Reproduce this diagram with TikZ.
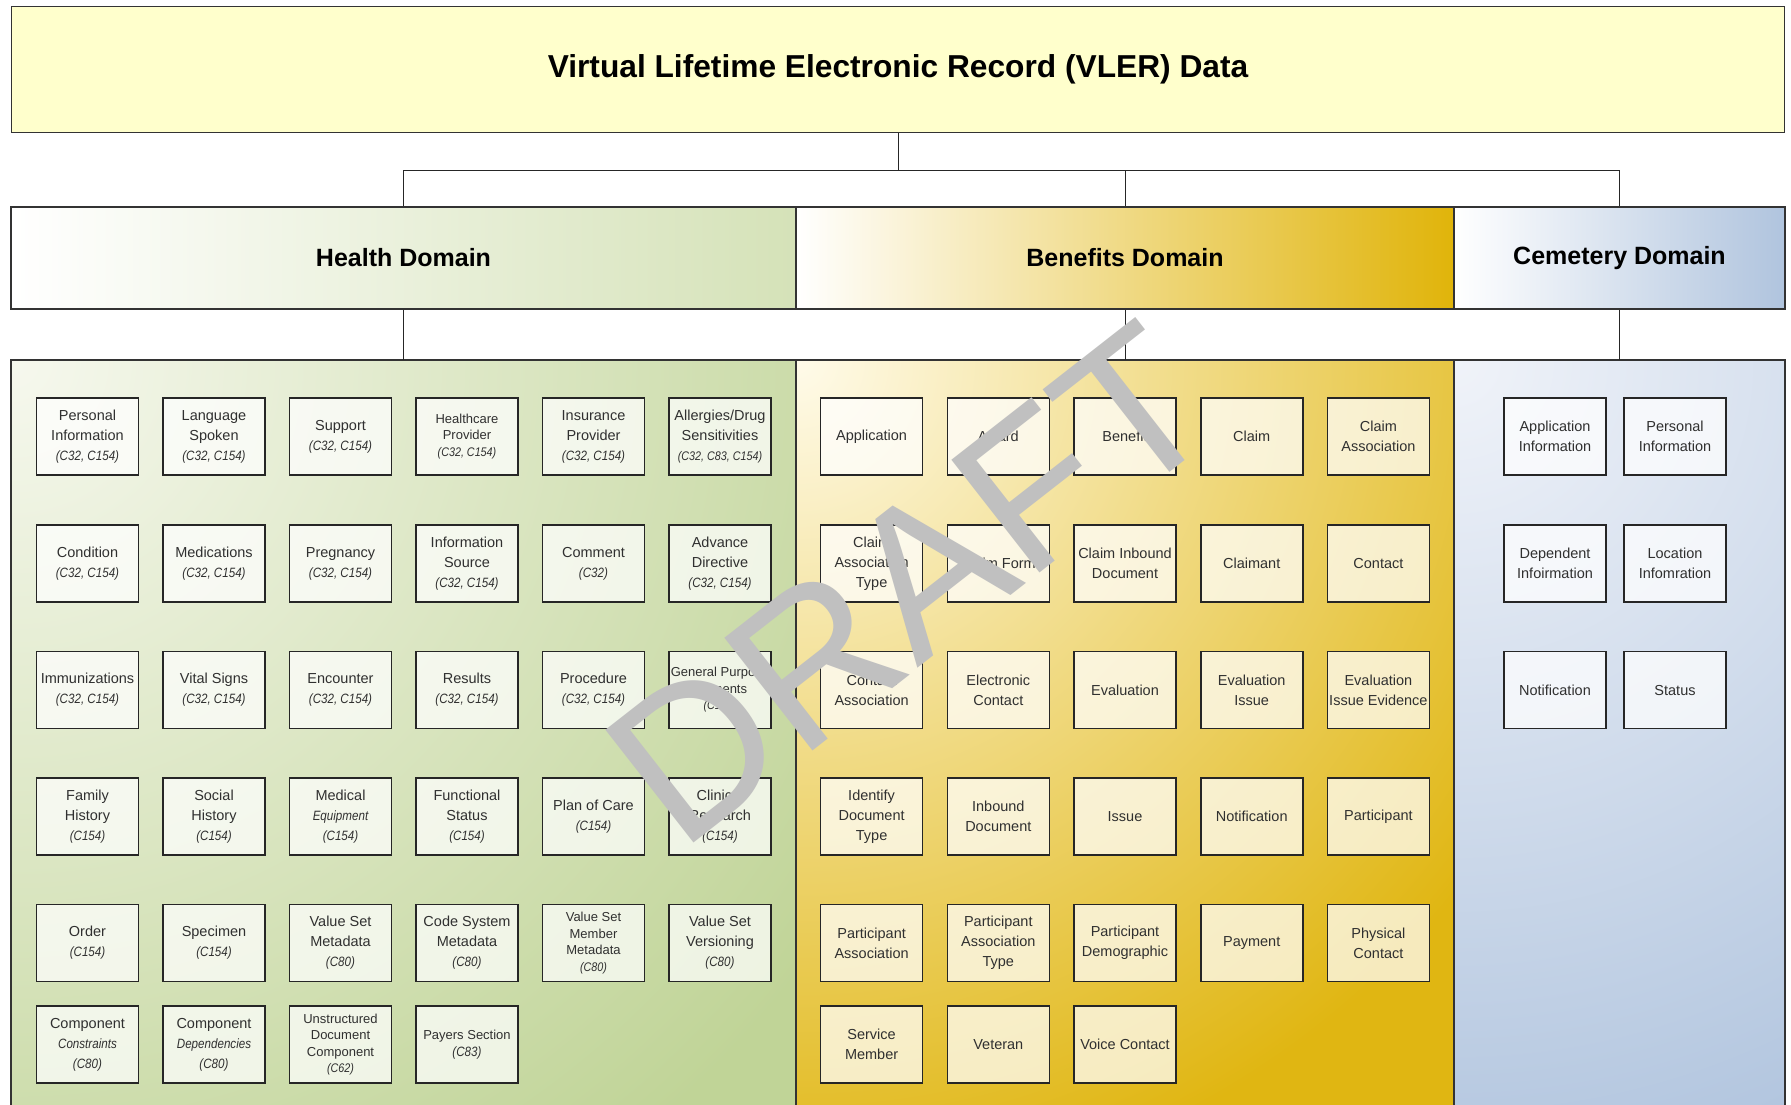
\documentclass[tikz,border=0pt]{standalone}
\usepackage{fontspec}
\setmainfont{Liberation Sans}
\newfontfamily\narrowfont[FakeStretch=0.86]{Liberation Sans}
\newcommand{\ci}[1]{{\narrowfont\itshape\fontsize{13.5}{20}\selectfont #1}}
\newcommand{\cis}[1]{{\narrowfont\itshape\fontsize{12.5}{16}\selectfont #1}}
\definecolor{titlefill}{HTML}{FFFFCC}
\definecolor{hgreen}{HTML}{D5E2B8}
\definecolor{cgreen}{HTML}{C0D497}
\definecolor{hgold}{HTML}{E0B40A}
\definecolor{cgold}{HTML}{E0B612}
\definecolor{hblue}{HTML}{B0C4DE}
\definecolor{cblue}{HTML}{B0C4DE}
\definecolor{paleg}{HTML}{F6F8EE}
\definecolor{paley}{HTML}{FFFBEA}
\definecolor{paleb}{HTML}{F0F3F9}
\definecolor{boxtext}{HTML}{303030}
\definecolor{draftgray}{HTML}{C0C0C0}
\begin{document}
\begin{tikzpicture}[x=1pt,y=-1pt,
  item/.style={draw=black!85, line width=1.6pt, fill=white, fill opacity=0.72, text opacity=1,
    minimum width=102pt, minimum height=77pt, inner sep=1pt, align=center, text=boxtext,
    font=\fontsize{14.5}{20}\selectfont},
  smallitem/.style={item, font=\fontsize{13}{16.5}\selectfont},
  hdr/.style={draw=black!80, line width=1.3pt, minimum height=102pt, inner sep=0pt,
    font=\bfseries\fontsize{25}{30}\selectfont},
  conn/.style={draw=black!85, line width=1pt},
  frame/.style={draw=black!80, line width=1.3pt},
]
\useasboundingbox (0,0) rectangle (1791,1104);
\clip (0,0) rectangle (1791,1104);

% containers
\begin{scope}
  \clip (11,360) rectangle (796,1130);
  \fill[cgreen] (11,360) rectangle (796,1130);
  \shade[inner color=paleg, outer color=cgreen] (11,360) circle (1000);
\end{scope}
\begin{scope}
  \clip (796,360) rectangle (1454,1130);
  \fill[cgold] (796,360) rectangle (1454,1130);
  \shade[inner color=paley, outer color=cgold] (796,360) circle (850);
\end{scope}
\begin{scope}
  \clip (1454,360) rectangle (1785,1130);
  \fill[cblue] (1454,360) rectangle (1785,1130);
  \shade[inner color=paleb, outer color=cblue] (1454,360) circle (850);
\end{scope}
\draw[frame] (11,360) rectangle (796,1130);
\draw[frame] (796,360) rectangle (1454,1130);
\draw[frame] (1454,360) rectangle (1785,1130);
\coordinate (cH) at (403.5,360);
\coordinate (cB) at (1125,360);
\coordinate (cC) at (1619.5,360);

% title and headers
\node[draw=black!80, line width=1.3pt, fill=titlefill, minimum width=1773pt, minimum height=126pt,
  inner sep=0pt, font=\bfseries\fontsize{31.7}{36}\selectfont] (title) at (898,69.5)
  {Virtual Lifetime Electronic Record (VLER) Data};
\node[hdr, left color=white, right color=hgreen, minimum width=785pt] (hdH) at (403.5,258) {Health Domain};
\node[hdr, left color=white, right color=hgold, minimum width=658pt] (hdB) at (1125,258) {Benefits Domain};
\node[hdr, left color=white, right color=hblue, minimum width=331pt] (hdC) at (1619.5,258) {Cemetery Domain};

% connectors
\coordinate (bus) at (898,170);
\draw[conn] (title.south) -- (bus);
\draw[conn] (bus) -| (hdH.north);
\draw[conn] (bus) -| (hdB.north);
\draw[conn] (bus) -| (hdC.north);
\draw[conn] (hdH.south) -- (cH);
\draw[conn] (hdB.south) -- (cB);
\draw[conn] (hdC.south) -- (cC);

% Health domain boxes
\node[item] (h11) at (87.5,436.5) {Personal\\Information\\\ci{(C32, C154)}};
\node[item] (h12) at (214,436.5) {Language\\Spoken\\\ci{(C32, C154)}};
\node[item] (h13) at (340.5,436.5) {Support\\\ci{(C32, C154)}};
\node[smallitem] (h14) at (467,436.5) {Healthcare\\Provider\\\cis{(C32, C154)}};
\node[item] (h15) at (593.5,436.5) {Insurance\\Provider\\\ci{(C32, C154)}};
\node[item] (h16) at (720,436.5) {Allergies/Drug\\Sensitivities\\\cis{(C32, C83, C154)}};

\node[item] (h21) at (87.5,563.5) {Condition\\\ci{(C32, C154)}};
\node[item] (h22) at (214,563.5) {Medications\\\ci{(C32, C154)}};
\node[item] (h23) at (340.5,563.5) {Pregnancy\\\ci{(C32, C154)}};
\node[item] (h24) at (467,563.5) {Information\\Source\\\ci{(C32, C154)}};
\node[item] (h25) at (593.5,563.5) {Comment\\\ci{(C32)}};
\node[item] (h26) at (720,563.5) {Advance\\Directive\\\ci{(C32, C154)}};

\node[item] (h31) at (87.5,690) {Immunizations\\\ci{(C32, C154)}};
\node[item] (h32) at (214,690) {Vital Signs\\\ci{(C32, C154)}};
\node[item] (h33) at (340.5,690) {Encounter\\\ci{(C32, C154)}};
\node[item] (h34) at (467,690) {Results\\\ci{(C32, C154)}};
\node[item] (h35) at (593.5,690) {Procedure\\\ci{(C32, C154)}};
\node[smallitem] (h36) at (720,690) {General Purpose\\Elements\\\cis{(C154)}};

\node[item] (h41) at (87.5,816.5) {Family\\History\\\ci{(C154)}};
\node[item] (h42) at (214,816.5) {Social\\History\\\ci{(C154)}};
\node[item] (h43) at (340.5,816.5) {Medical\\\ci{Equipment}\\\ci{(C154)}};
\node[item] (h44) at (467,816.5) {Functional\\Status\\\ci{(C154)}};
\node[item] (h45) at (593.5,816.5) {Plan of Care\\\ci{(C154)}};
\node[item] (h46) at (720,816.5) {Clinical\\Research\\\ci{(C154)}};

\node[item] (h51) at (87.5,943) {Order\\\ci{(C154)}};
\node[item] (h52) at (214,943) {Specimen\\\ci{(C154)}};
\node[item] (h53) at (340.5,943) {Value Set\\Metadata\\\ci{(C80)}};
\node[item] (h54) at (467,943) {Code System\\Metadata\\\ci{(C80)}};
\node[smallitem] (h55) at (593.5,943) {Value Set\\Member\\Metadata\\\cis{(C80)}};
\node[item] (h56) at (720,943) {Value Set\\Versioning\\\ci{(C80)}};

\node[item] (h61) at (87.5,1044.5) {Component\\\ci{Constraints}\\\ci{(C80)}};
\node[item] (h62) at (214,1044.5) {Component\\\ci{Dependencies}\\\ci{(C80)}};
\node[smallitem] (h63) at (340.5,1044.5) {Unstructured\\Document\\Component\\\cis{(C62)}};
\node[smallitem] (h64) at (467,1044.5) {Payers Section\\\ci{(C83)}};

% Benefits domain boxes
\node[item] (b11) at (871.6,436.5) {Application};
\node[item] (b12) at (998.3,436.5) {Award};
\node[item] (b13) at (1125,436.5) {Benefit};
\node[item] (b14) at (1251.7,436.5) {Claim};
\node[item] (b15) at (1378.4,436.5) {Claim\\Association};

\node[item] (b21) at (871.6,563.5) {Claim\\Association\\Type};
\node[item] (b22) at (998.3,563.5) {Claim Form};
\node[item] (b23) at (1125,563.5) {Claim Inbound\\Document};
\node[item] (b24) at (1251.7,563.5) {Claimant};
\node[item] (b25) at (1378.4,563.5) {Contact};

\node[item] (b31) at (871.6,690) {Contact\\Association};
\node[item] (b32) at (998.3,690) {Electronic\\Contact};
\node[item] (b33) at (1125,690) {Evaluation};
\node[item] (b34) at (1251.7,690) {Evaluation\\Issue};
\node[item] (b35) at (1378.4,690) {Evaluation\\Issue Evidence};

\node[item] (b41) at (871.6,816.5) {Identify\\Document\\Type};
\node[item] (b42) at (998.3,816.5) {Inbound\\Document};
\node[item] (b43) at (1125,816.5) {Issue};
\node[item] (b44) at (1251.7,816.5) {Notification};
\node[item] (b45) at (1378.4,816.5) {Participant};

\node[item] (b51) at (871.6,943) {Participant\\Association};
\node[item] (b52) at (998.3,943) {Participant\\Association\\Type};
\node[item] (b53) at (1125,943) {Participant\\Demographic};
\node[item] (b54) at (1251.7,943) {Payment};
\node[item] (b55) at (1378.4,943) {Physical\\Contact};

\node[item] (b61) at (871.6,1044.5) {Service\\Member};
\node[item] (b62) at (998.3,1044.5) {Veteran};
\node[item] (b63) at (1125,1044.5) {Voice Contact};

% Cemetery domain boxes
\node[item] (c11) at (1555,436.5) {Application\\Information};
\node[item] (c12) at (1675,436.5) {Personal\\Information};
\node[item] (c21) at (1555,563.5) {Dependent\\Infoirmation};
\node[item] (c22) at (1675,563.5) {Location\\Infomration};
\node[item] (c31) at (1555,690) {Notification};
\node[item] (c32) at (1675,690) {Status};

% watermark
\node[rotate=38, text=draftgray, font=\fontsize{208}{208}\selectfont, inner sep=0pt] (draft) at (910,584) {DRAFT};
\end{tikzpicture}
\end{document}
